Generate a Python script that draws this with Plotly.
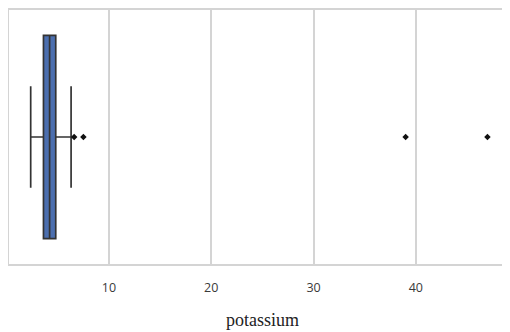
import plotly.graph_objects as go

# Box statistics for potassium
q1 = [3.6]
median = [4.2]
q3 = [4.8]
lower_fence = [2.35]
upper_fence = [6.3]
outliers = [6.6, 7.5, 39.0, 47.0]
tick_values = [10, 20, 30, 40]
tick_labels = ["10", "20", "30", "40"]
axis_title = "potassium"

fig = go.Figure()
fig.add_trace(go.Box(
    y=[0], q1=q1, median=median, q3=q3,
    lowerfence=lower_fence, upperfence=upper_fence,
    orientation="h", width=0.8, whiskerwidth=0.5,
    fillcolor="#4c6faf", line=dict(color="#333333", width=1.7),
    boxpoints=False, showlegend=False, hoverinfo="skip",
))
fig.add_trace(go.Scatter(
    x=outliers, y=[0] * len(outliers), mode="markers",
    marker=dict(symbol="diamond", size=5, color="#111111"),
    showlegend=False,
))

fig.update_layout(
    width=502, height=324,
    margin=dict(l=1, r=0, t=1, b=68),
    paper_bgcolor="white", plot_bgcolor="white",
    xaxis=dict(
        range=[0.23, 49.01], tickvals=tick_values, ticktext=tick_labels,
        showgrid=True, gridcolor="#d4d4d4", gridwidth=1.5,
        zeroline=False, showline=True, linecolor="#d4d4d4", linewidth=1.5, mirror=True,
        ticks="outside", ticklen=11, tickcolor="rgba(0,0,0,0)",
        tickfont=dict(family="Open Sans", size=12.5, color="#3a3a3a"),
    ),
    yaxis=dict(
        range=[-0.5, 0.5], showticklabels=False, showgrid=False, zeroline=False,
        showline=True, linecolor="#d4d4d4", linewidth=1.5, mirror=True,
    ),
    annotations=[dict(
        text=axis_title, xref="paper", yref="paper", x=0.508, y=-0.2196,
        xanchor="center", yanchor="middle", showarrow=False,
        font=dict(family="Liberation Serif", size=18, color="#222222"),
    )],
)
fig.write_html("out.html")
